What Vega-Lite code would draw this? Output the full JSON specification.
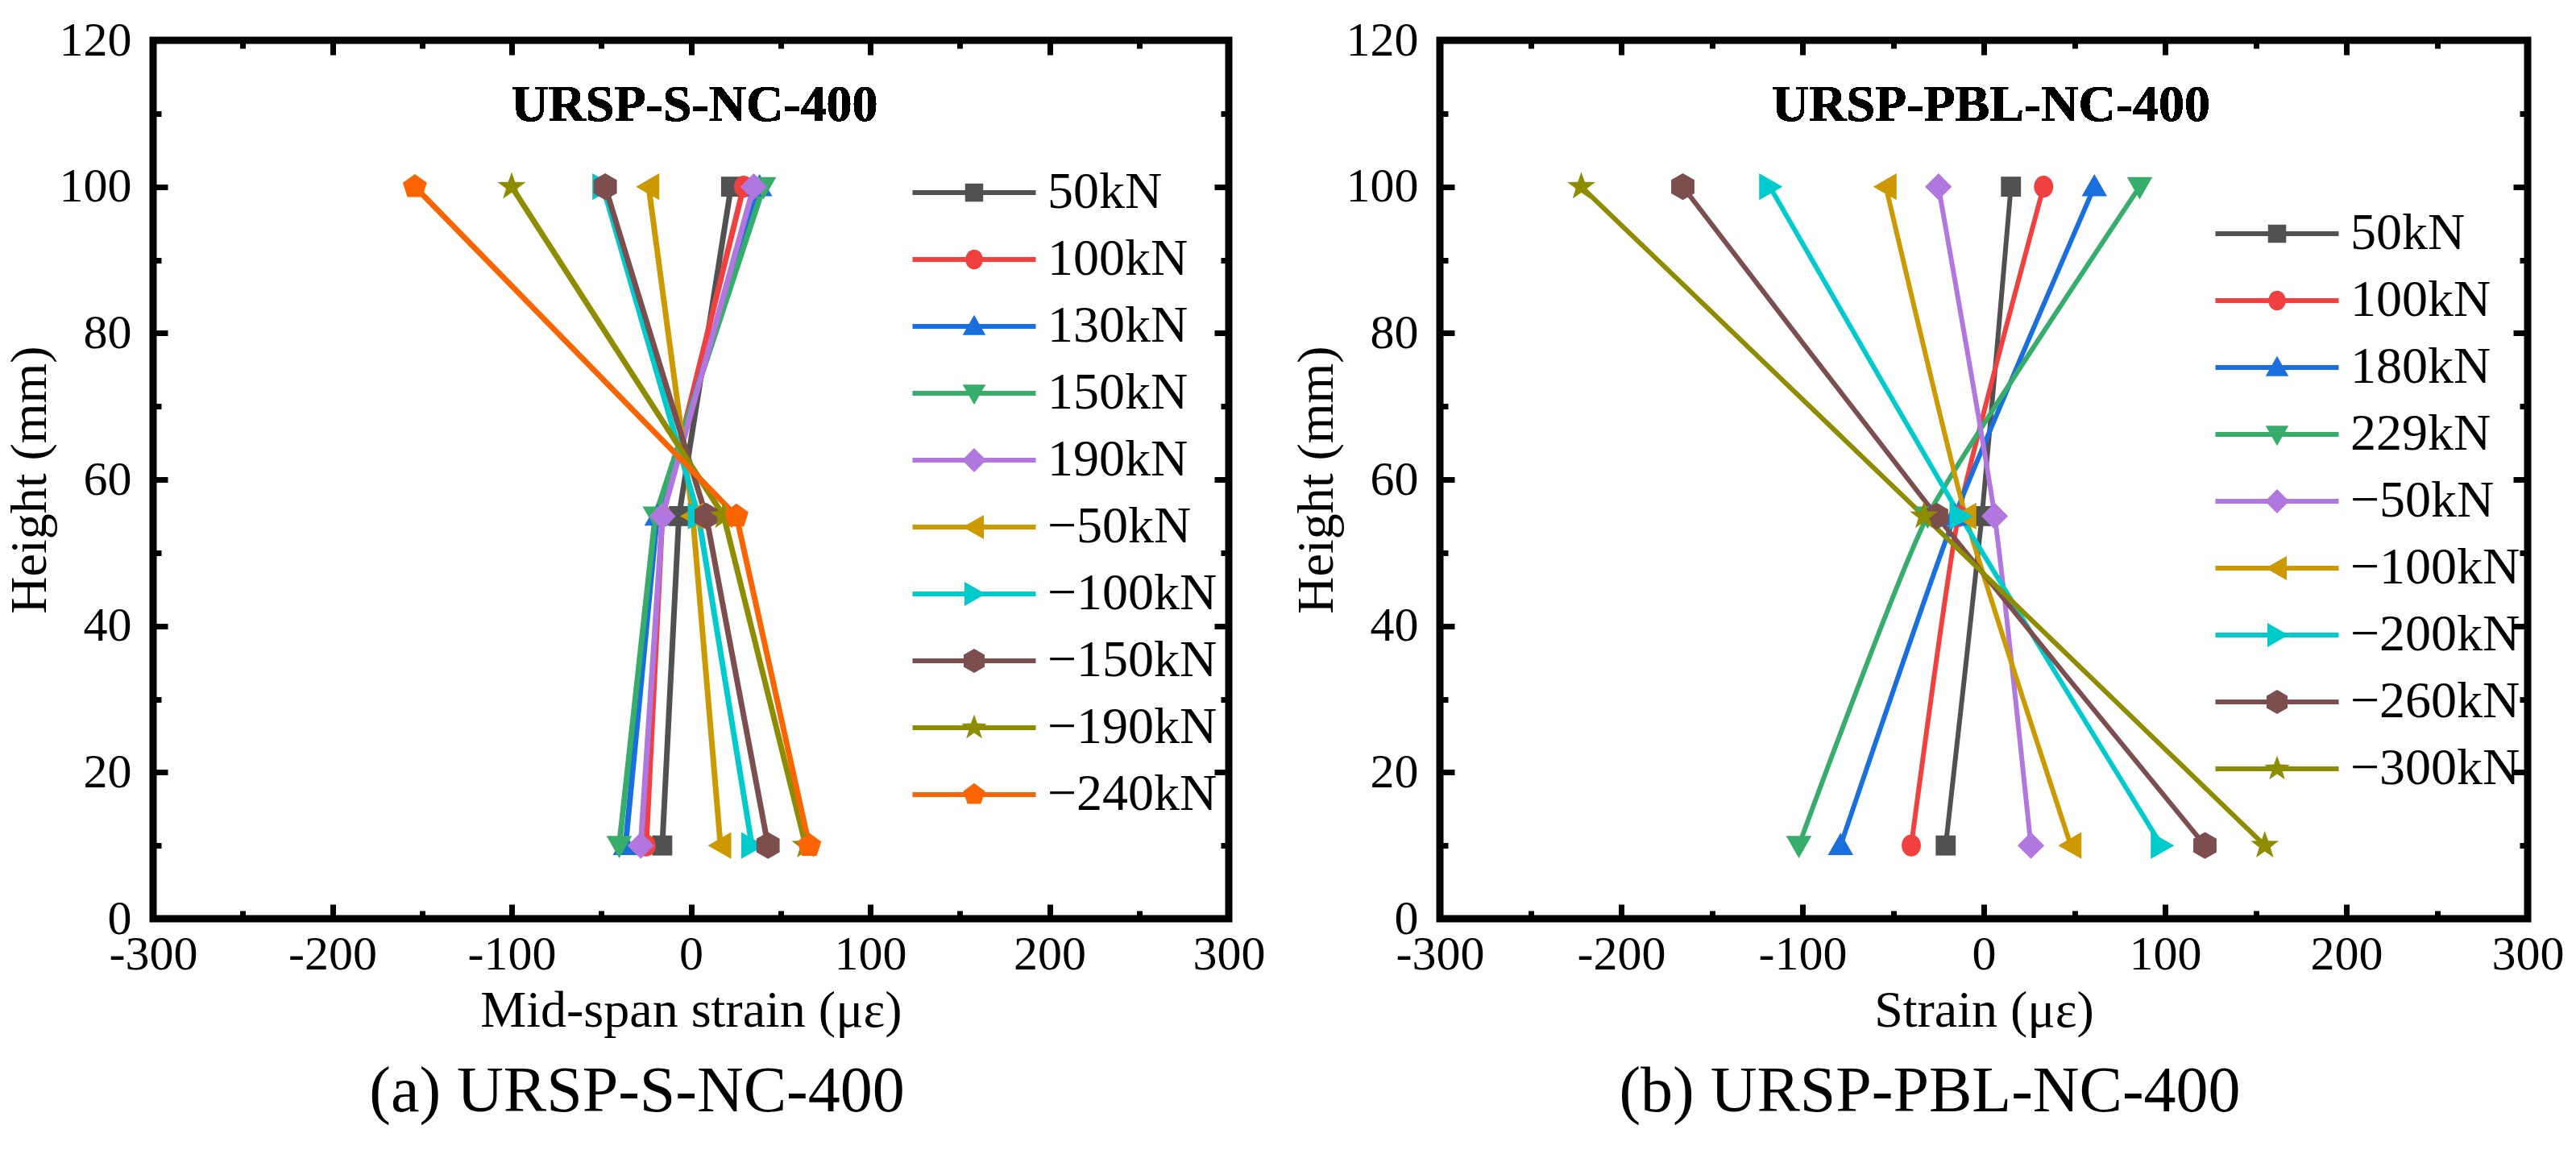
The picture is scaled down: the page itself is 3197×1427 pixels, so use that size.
{
  "$schema": "https://vega.github.io/schema/vega-lite/v6.json",
  "background": "white",
  "padding": {"left": 0, "top": 15, "right": 0, "bottom": 0},
  "spacing": 22,
  "datasets": {
    "panelA": [
      {"load": "50kN", "h": 100, "strain": 22.4}, {"load": "50kN", "h": 55, "strain": -6.7}, {"load": "50kN", "h": 10, "strain": -16},
      {"load": "100kN", "h": 100, "strain": 29.4}, {"load": "100kN", "h": 55, "strain": -16}, {"load": "100kN", "h": 10, "strain": -25},
      {"load": "130kN", "h": 100, "strain": 38.3}, {"load": "130kN", "h": 55, "strain": -18.9}, {"load": "130kN", "h": 10, "strain": -36.5},
      {"load": "150kN", "h": 100, "strain": 40.5}, {"load": "150kN", "h": 55, "strain": -19.9}, {"load": "150kN", "h": 10, "strain": -40},
      {"load": "190kN", "h": 100, "strain": 35}, {"load": "190kN", "h": 55, "strain": -15.9}, {"load": "190kN", "h": 10, "strain": -28},
      {"load": "−50kN", "h": 100, "strain": -23.6}, {"load": "−50kN", "h": 55, "strain": 1}, {"load": "−50kN", "h": 10, "strain": 16.5},
      {"load": "−100kN", "h": 100, "strain": -49}, {"load": "−100kN", "h": 55, "strain": 4.2}, {"load": "−100kN", "h": 10, "strain": 34},
      {"load": "−150kN", "h": 100, "strain": -47.8}, {"load": "−150kN", "h": 55, "strain": 8.5}, {"load": "−150kN", "h": 10, "strain": 43},
      {"load": "−190kN", "h": 100, "strain": -100}, {"load": "−190kN", "h": 55, "strain": 18.3}, {"load": "−190kN", "h": 10, "strain": 64},
      {"load": "−240kN", "h": 100, "strain": -154}, {"load": "−240kN", "h": 55, "strain": 25.4}, {"load": "−240kN", "h": 10, "strain": 66}
    ],
    "panelB": [
      {"load": "50kN", "h": 100, "strain": 15}, {"load": "50kN", "h": 55, "strain": -1}, {"load": "50kN", "h": 10, "strain": -21},
      {"load": "100kN", "h": 100, "strain": 33}, {"load": "100kN", "h": 55, "strain": -14}, {"load": "100kN", "h": 10, "strain": -40},
      {"load": "180kN", "h": 100, "strain": 61}, {"load": "180kN", "h": 55, "strain": -16}, {"load": "180kN", "h": 10, "strain": -79},
      {"load": "229kN", "h": 100, "strain": 86}, {"load": "229kN", "h": 55, "strain": -31}, {"load": "229kN", "h": 10, "strain": -102},
      {"load": "−50kN", "h": 100, "strain": -25}, {"load": "−50kN", "h": 55, "strain": 6}, {"load": "−50kN", "h": 10, "strain": 26},
      {"load": "−100kN", "h": 100, "strain": -54}, {"load": "−100kN", "h": 55, "strain": -10}, {"load": "−100kN", "h": 10, "strain": 48},
      {"load": "−200kN", "h": 100, "strain": -118}, {"load": "−200kN", "h": 55, "strain": -13}, {"load": "−200kN", "h": 10, "strain": 98},
      {"load": "−260kN", "h": 100, "strain": -166}, {"load": "−260kN", "h": 55, "strain": -26}, {"load": "−260kN", "h": 10, "strain": 122},
      {"load": "−300kN", "h": 100, "strain": -222}, {"load": "−300kN", "h": 55, "strain": -33}, {"load": "−300kN", "h": 10, "strain": 155}
    ]
  },
  "resolve": {"scale": {"color": "independent", "shape": "independent", "x": "independent", "y": "independent"}},
  "hconcat": [
    {
      "width": 1335,
      "height": 1090,
      "data": {"name": "panelA"},
      "title": {"text": "(a) URSP-S-NC-400", "orient": "bottom", "anchor": "middle", "frame": "group", "dx": -67, "offset": 30, "fontSize": 80, "fontWeight": "normal", "font": "Liberation Serif", "color": "black"},
      "resolve": {"axis": {"x": "independent", "y": "independent"}, "legend": {"color": "independent", "shape": "independent"}},
      "layer": [
        {
          "mark": {"type": "line", "strokeWidth": 7},
          "encoding": {
            "x": {"field": "strain", "type": "quantitative", "scale": {"domain": [-300, 300], "nice": false, "zero": false},
              "axis": {"orient": "bottom", "title": "Mid-span strain (με)", "values": [-300, -250, -200, -150, -100, -50, 0, 50, 100, 150, 200, 250, 300],
                "labelExpr": "datum.value % 100 === 0 ? '' + datum.value : ''", "tickSize": {"condition": {"test": "datum.value % 100 === 0", "value": -18}, "value": -10},
                "labelPadding": 33, "titlePadding": 0, "labelFlush": false, "labelOverlap": false, "labelBound": false}},
            "y": {"field": "h", "type": "quantitative", "scale": {"domain": [0, 120], "nice": false},
              "axis": {"orient": "left", "title": "Height (mm)", "values": [0, 10, 20, 30, 40, 50, 60, 70, 80, 90, 100, 110, 120],
                "labelExpr": "datum.value % 20 === 0 ? '' + datum.value : ''", "tickSize": {"condition": {"test": "datum.value % 20 === 0", "value": -18}, "value": -10},
                "labelPadding": 45, "titlePadding": 4, "labelFlush": false, "labelOverlap": false, "labelBound": false}},
            "color": {"field": "load", "type": "nominal",
              "scale": {"domain": ["50kN", "100kN", "130kN", "150kN", "190kN", "−50kN", "−100kN", "−150kN", "−190kN", "−240kN"],
                "range": ["#515151", "#F14040", "#1A6FDF", "#37AD6B", "#B177DE", "#CC9900", "#00CBCC", "#7D4E4E", "#8E8C00", "#FB6501"]},
              "legend": {"title": null, "orient": "none", "legendX": 987, "legendY": 157, "padding": 0, "symbolType": "M-5.1,0H5.1", "symbolSize": 900, "symbolStrokeWidth": 6, "symbolOpacity": 1, "labelOffset": 59, "labelFontSize": 64, "labelOpacity": 0, "rowPadding": 19, "labelLimit": 400}},
            "order": {"field": "h", "type": "quantitative"}
          }
        },
        {
          "mark": {"type": "point", "filled": true, "opacity": 1, "size": 1100, "strokeWidth": 0},
          "encoding": {
            "x": {"field": "strain", "type": "quantitative",
              "axis": {"orient": "top", "title": null, "labels": false, "values": [-300, -250, -200, -150, -100, -50, 0, 50, 100, 150, 200, 250, 300],
                "tickSize": {"condition": {"test": "datum.value % 100 === 0", "value": -18}, "value": -10}}},
            "y": {"field": "h", "type": "quantitative",
              "axis": {"orient": "right", "title": null, "labels": false, "values": [0, 10, 20, 30, 40, 50, 60, 70, 80, 90, 100, 110, 120],
                "tickSize": {"condition": {"test": "datum.value % 20 === 0", "value": -18}, "value": -10}}},
            "color": {"field": "load", "type": "nominal",
              "legend": {"title": null, "orient": "none", "legendX": 987, "legendY": 157, "padding": 0, "symbolSize": 900, "symbolStrokeWidth": 0, "symbolOpacity": 1, "labelOffset": 59, "labelFontSize": 64, "labelFont": "Liberation Serif", "labelColor": "black", "rowPadding": 19, "labelLimit": 400}},
            "shape": {"field": "load", "type": "nominal",
              "scale": {"domain": ["50kN", "100kN", "130kN", "150kN", "190kN", "−50kN", "−100kN", "−150kN", "−190kN", "−240kN"],
                "range": ["M-0.75,-0.75H0.75V0.75H-0.75Z", "M0.72,0A0.72,0.82,0,1,1,-0.72,0A0.72,0.82,0,1,1,0.72,0Z", "M0,-0.95L0.95,0.72H-0.95Z", "M0,0.95L0.95,-0.72H-0.95Z", "M0,-1L1,0L0,1L-1,0Z", "M-0.95,0L0.8,-1V1Z", "M0.95,0L-0.8,-1V1Z", "M0,-1L0.87,-0.5V0.5L0,1L-0.87,0.5V-0.5Z", "M0,-1.1L0.26,-0.36L1.05,-0.34L0.42,0.14L0.65,0.89L0,0.44L-0.65,0.89L-0.42,0.14L-1.05,-0.34L-0.26,-0.36Z", "M0,-0.95L0.9,-0.29L0.56,0.77H-0.56L-0.9,-0.29Z"]}}
          }
        },
        {
          "mark": {"type": "text", "align": "center", "baseline": "alphabetic", "fontSize": 64, "fontWeight": "bold", "font": "Liberation Serif", "color": "black"},
          "encoding": {
            "x": {"datum": 2, "type": "quantitative", "axis": null},
            "y": {"datum": 109, "type": "quantitative", "axis": null},
            "text": {"value": "URSP-S-NC-400"}
          }
        }
      ]
    },
    {
      "width": 1350,
      "height": 1090,
      "data": {"name": "panelB"},
      "title": {"text": "(b) URSP-PBL-NC-400", "orient": "bottom", "anchor": "middle", "frame": "group", "dx": -67, "offset": 30, "fontSize": 80, "fontWeight": "normal", "font": "Liberation Serif", "color": "black"},
      "resolve": {"axis": {"x": "independent", "y": "independent"}, "legend": {"color": "independent", "shape": "independent"}},
      "layer": [
        {
          "mark": {"type": "line", "strokeWidth": 6, "interpolate": "cardinal", "tension": 0.5},
          "encoding": {
            "x": {"field": "strain", "type": "quantitative", "scale": {"domain": [-300, 300], "nice": false, "zero": false},
              "axis": {"orient": "bottom", "title": "Strain (με)", "values": [-300, -250, -200, -150, -100, -50, 0, 50, 100, 150, 200, 250, 300],
                "labelExpr": "datum.value % 100 === 0 ? '' + datum.value : ''", "tickSize": {"condition": {"test": "datum.value % 100 === 0", "value": -18}, "value": -10},
                "labelPadding": 33, "titlePadding": 0, "labelFlush": false, "labelOverlap": false, "labelBound": false}},
            "y": {"field": "h", "type": "quantitative", "scale": {"domain": [0, 120], "nice": false},
              "axis": {"orient": "left", "title": "Height (mm)", "values": [0, 10, 20, 30, 40, 50, 60, 70, 80, 90, 100, 110, 120],
                "labelExpr": "datum.value % 20 === 0 ? '' + datum.value : ''", "tickSize": {"condition": {"test": "datum.value % 20 === 0", "value": -18}, "value": -10},
                "labelPadding": 45, "titlePadding": 4, "labelFlush": false, "labelOverlap": false, "labelBound": false}},
            "color": {"field": "load", "type": "nominal",
              "scale": {"domain": ["50kN", "100kN", "180kN", "229kN", "−50kN", "−100kN", "−200kN", "−260kN", "−300kN"],
                "range": ["#515151", "#F14040", "#1A6FDF", "#37AD6B", "#B177DE", "#CC9900", "#00CBCC", "#7D4E4E", "#8E8C00"]},
              "legend": {"title": null, "orient": "none", "legendX": 1007, "legendY": 208, "padding": 0, "symbolType": "M-5.1,0H5.1", "symbolSize": 900, "symbolStrokeWidth": 6, "symbolOpacity": 1, "labelOffset": 59, "labelFontSize": 64, "labelOpacity": 0, "rowPadding": 19, "labelLimit": 400}},
            "order": {"field": "h", "type": "quantitative"}
          }
        },
        {
          "mark": {"type": "point", "filled": true, "opacity": 1, "size": 1100, "strokeWidth": 0},
          "encoding": {
            "x": {"field": "strain", "type": "quantitative",
              "axis": {"orient": "top", "title": null, "labels": false, "values": [-300, -250, -200, -150, -100, -50, 0, 50, 100, 150, 200, 250, 300],
                "tickSize": {"condition": {"test": "datum.value % 100 === 0", "value": -18}, "value": -10}}},
            "y": {"field": "h", "type": "quantitative",
              "axis": {"orient": "right", "title": null, "labels": false, "values": [0, 10, 20, 30, 40, 50, 60, 70, 80, 90, 100, 110, 120],
                "tickSize": {"condition": {"test": "datum.value % 20 === 0", "value": -18}, "value": -10}}},
            "color": {"field": "load", "type": "nominal",
              "legend": {"title": null, "orient": "none", "legendX": 1007, "legendY": 208, "padding": 0, "symbolSize": 900, "symbolStrokeWidth": 0, "symbolOpacity": 1, "labelOffset": 59, "labelFontSize": 64, "labelFont": "Liberation Serif", "labelColor": "black", "rowPadding": 19, "labelLimit": 400}},
            "shape": {"field": "load", "type": "nominal",
              "scale": {"domain": ["50kN", "100kN", "180kN", "229kN", "−50kN", "−100kN", "−200kN", "−260kN", "−300kN"],
                "range": ["M-0.75,-0.75H0.75V0.75H-0.75Z", "M0.72,0A0.72,0.82,0,1,1,-0.72,0A0.72,0.82,0,1,1,0.72,0Z", "M0,-0.95L0.95,0.72H-0.95Z", "M0,0.95L0.95,-0.72H-0.95Z", "M0,-1L1,0L0,1L-1,0Z", "M-0.95,0L0.8,-1V1Z", "M0.95,0L-0.8,-1V1Z", "M0,-1L0.87,-0.5V0.5L0,1L-0.87,0.5V-0.5Z", "M0,-1.1L0.26,-0.36L1.05,-0.34L0.42,0.14L0.65,0.89L0,0.44L-0.65,0.89L-0.42,0.14L-1.05,-0.34L-0.26,-0.36Z"]}}
          }
        },
        {
          "mark": {"type": "text", "align": "center", "baseline": "alphabetic", "fontSize": 64, "fontWeight": "bold", "font": "Liberation Serif", "color": "black"},
          "encoding": {
            "x": {"datum": 4, "type": "quantitative", "axis": null},
            "y": {"datum": 109, "type": "quantitative", "axis": null},
            "text": {"value": "URSP-PBL-NC-400"}
          }
        }
      ]
    }
  ],
  "config": {
    "font": "Liberation Serif",
    "view": {"stroke": "black", "strokeWidth": 9},
    "axis": {"grid": false, "domain": false, "ticks": true, "tickColor": "black", "tickWidth": 7, "labelColor": "black", "titleColor": "black",
      "labelFont": "Liberation Serif", "titleFont": "Liberation Serif", "labelFontSize": 60, "titleFontSize": 64, "titleFontWeight": "normal"},
    "legend": {"labelFont": "Liberation Serif"}
  }
}
